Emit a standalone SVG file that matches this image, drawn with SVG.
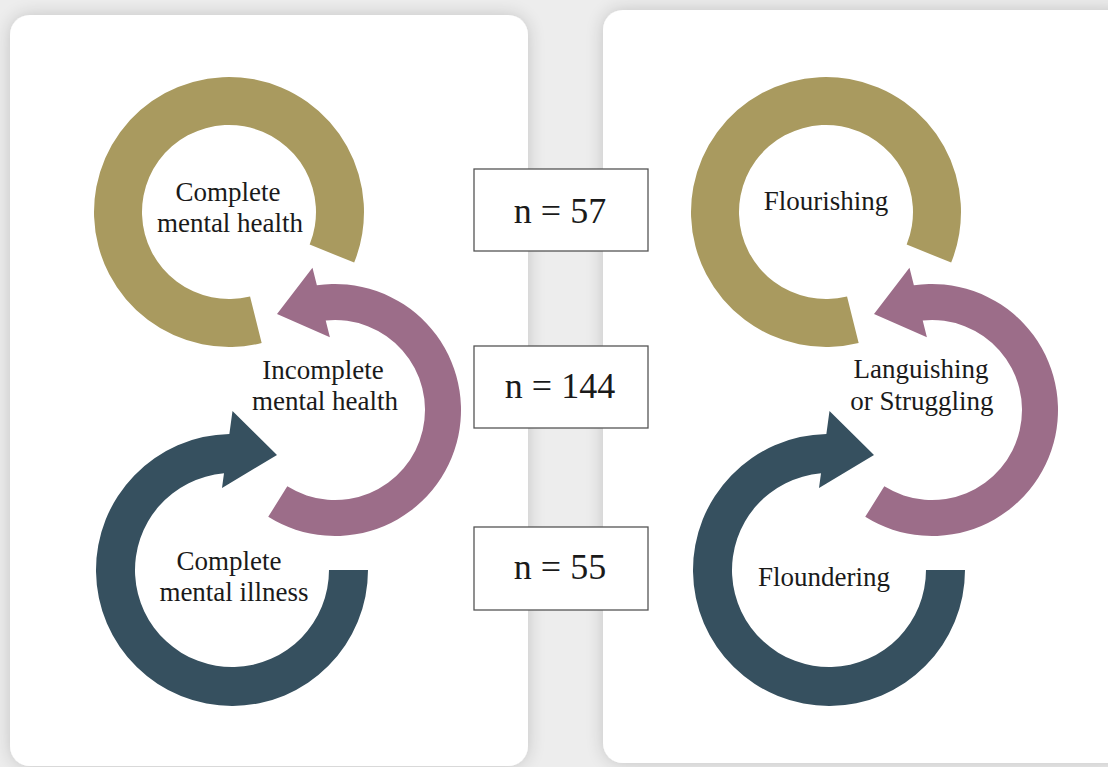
<svg xmlns="http://www.w3.org/2000/svg" width="1108" height="767" viewBox="0 0 1108 767">
<defs>
<filter id="sh" x="-10%" y="-10%" width="120%" height="120%">
<feGaussianBlur in="SourceAlpha" stdDeviation="9"/>
<feComponentTransfer><feFuncA type="linear" slope="0.18"/></feComponentTransfer>
<feMerge><feMergeNode/><feMergeNode in="SourceGraphic"/></feMerge>
</filter>
<path id="goldShape" d="M 261.66 342.99 A 135 135 0 1 1 354.17 262.57 L 309.67 244.59 A 87 87 0 1 0 250.05 296.42 Z"/>
<path id="purpleShape" d="M 268.23 516.85 A 126 126 0 1 0 316.88 285.31 L 312.47 267.77 L 277 314 L 329.91 337.18 L 325.71 320.48 A 90 90 0 1 1 287.31 486.32 Z"/>
<path id="blueShape" d="M 368 570 A 136 136 0 1 1 229.36 434.02 L 232.5 411 L 277 455 L 222 488 L 224 473.33 A 97 97 0 1 0 329 570 Z"/>
</defs>
<style>
.gold{fill:#a99a5f}
.purple{fill:#9c6d89}
.blue{fill:#36505f}
.lbl{font-family:"Liberation Serif","Times New Roman",serif;font-size:27px;fill:#1a1a1a;text-anchor:middle}
.num{font-family:"Liberation Serif","Times New Roman",serif;font-size:36px;fill:#1a1a1a;text-anchor:middle}
.box{fill:#ffffff;stroke:#555555;stroke-width:1.3}
.card{fill:#ffffff;filter:url(#sh)}
</style>
<rect x="0" y="0" width="1108" height="767" fill="#ededed"/>
<rect class="card" x="10" y="15" width="518" height="751" rx="20" ry="20"/>
<rect class="card" x="603" y="10" width="530" height="753" rx="20" ry="20"/>

<g id="left-complete-mental-health">
<use href="#goldShape" class="gold"/>
<text class="lbl" x="228" y="201">Complete</text>
<text class="lbl" x="230" y="232">mental health</text>
</g>
<g id="left-incomplete-mental-health">
<use href="#purpleShape" class="purple"/>
<text class="lbl" x="323" y="379">Incomplete</text>
<text class="lbl" x="325" y="410">mental health</text>
</g>
<g id="left-complete-mental-illness">
<use href="#blueShape" class="blue"/>
<text class="lbl" x="229" y="570">Complete</text>
<text class="lbl" x="234" y="601">mental illness</text>
</g>

<g id="n57">
<rect class="box" x="474" y="169" width="174" height="82"/>
<text class="num" x="560" y="223">n = 57</text>
</g>
<g id="n144">
<rect class="box" x="474" y="346" width="174" height="82"/>
<text class="num" x="560" y="398">n = 144</text>
</g>
<g id="n55">
<rect class="box" x="474" y="527" width="174" height="83"/>
<text class="num" x="560" y="579">n = 55</text>
</g>

<g id="right-flourishing">
<use href="#goldShape" class="gold" transform="translate(597,0)"/>
<text class="lbl" x="826" y="210">Flourishing</text>
</g>
<g id="right-languishing">
<use href="#purpleShape" class="purple" transform="translate(597,0)"/>
<text class="lbl" x="921" y="378">Languishing</text>
<text class="lbl" x="922" y="410">or Struggling</text>
</g>
<g id="right-floundering">
<use href="#blueShape" class="blue" transform="translate(597,0)"/>
<text class="lbl" x="824" y="586">Floundering</text>
</g>
</svg>
